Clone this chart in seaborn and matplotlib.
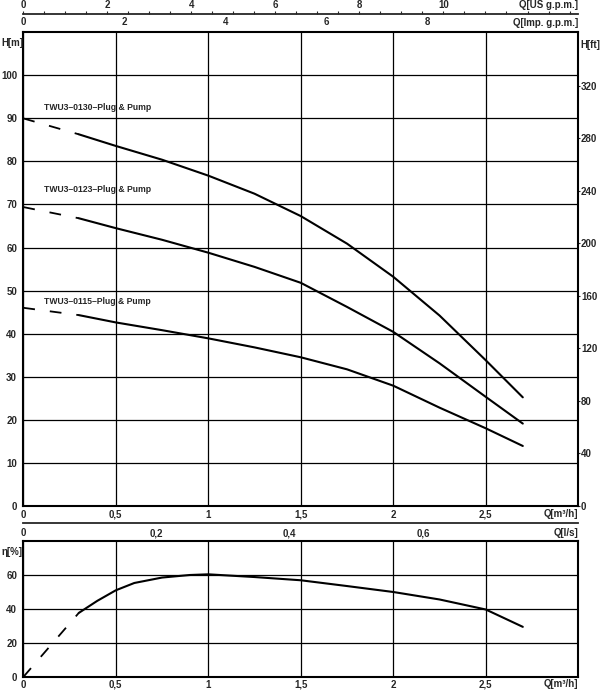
import numpy as np
import pandas as pd
import matplotlib
matplotlib.use("Agg")
import matplotlib.pyplot as plt
import seaborn as sns

# flow points along the solid parts of the head curves [m3/h]
q_solid = [0.3, 0.5, 0.75, 1.0, 1.25, 1.5, 1.75, 2.0, 2.25, 2.5, 2.7]
# dashed start (extrapolated part)
q_dash = [0.0, 0.3]

# head curves [m]
h_0130 = [86.3, 83.6, 80.4, 76.7, 72.5, 67.3, 60.9, 53.2, 44.2, 33.8, 25.2]
h_0123 = [66.8, 64.5, 61.8, 58.8, 55.5, 51.8, 46.2, 40.4, 33.1, 25.3, 19.1]
h_0115 = [44.3, 42.6, 40.8, 38.9, 36.8, 34.5, 31.7, 27.9, 22.8, 18.0, 13.9]
h_0130_dash = [90.0, 86.3]
h_0123_dash = [69.4, 66.8]
h_0115_dash = [46.0, 44.3]
pump_names = ["TWU3–0130–Plug & Pump", "TWU3–0123–Plug & Pump", "TWU3–0115–Plug & Pump"]

# efficiency [%]
q_eta = [0.3, 0.4, 0.5, 0.6, 0.75, 0.9, 1.0, 1.25, 1.5, 1.75, 2.0, 2.25, 2.5, 2.7]
eta = [37.7, 44.8, 51.0, 55.3, 58.5, 60.0, 60.4, 58.8, 56.9, 53.5, 50.0, 45.6, 39.7, 29.5]
eta_dash = [0.0, 37.7]

x_ticks = [0, 0.5, 1, 1.5, 2, 2.5]
x_labels = ["0", "0,5", "1", "1,5", "2", "2,5"]
h_ticks = list(range(0, 101, 10))
ft_ticks = [0, 40, 80, 120, 160, 200, 240, 280, 320]
us_ticks = [0, 2, 4, 6, 8, 10]
imp_ticks = [0, 2, 4, 6, 8]
ls_ticks = [0, 0.2, 0.4, 0.6]
ls_labels = ["0", "0,2", "0,4", "0,6"]
eta_ticks = [0, 20, 40, 60]

US_GPM = 4.403
IMP_GPM = 3.666
FT = 3.281

sns.set_style("white")
plt.rcParams["font.family"] = ["Liberation Sans", "DejaVu Sans"]
plt.rcParams["font.weight"] = "bold"
fs = 7

W, H = 600, 690
fig = plt.figure(figsize=(6, 6.9), dpi=100)


def fx(px):
    return px / W


def fy(py):
    return 1 - py / H


left, right = 23.3, 578.3
ax = fig.add_axes([fx(left), fy(505.8), fx(right - left), (505.8 - 32.3) / H])
ax_e = fig.add_axes([fx(left), fy(677), fx(right - left), (677 - 541) / H])

line_kw = dict(color="black", linewidth=1.5)
dash_kw = dict(color="black", linewidth=1.3, linestyle=(0, (6.5, 8.3)))

for hs, hd in [(h_0130, h_0130_dash), (h_0123, h_0123_dash), (h_0115, h_0115_dash)]:
    sns.lineplot(x=q_solid, y=hs, ax=ax, **line_kw)
    sns.lineplot(x=q_dash, y=hd, ax=ax, **dash_kw)

sns.lineplot(x=q_eta, y=eta, ax=ax_e, **line_kw)
sns.lineplot(x=q_dash, y=eta_dash, ax=ax_e, **dash_kw)

# curve names
for name, yv in zip(pump_names, [92.5, 73.5, 47.4]):
    ax.text(0.114, yv, name, fontsize=6.2, fontweight="bold", va="center", ha="left")

for a in (ax, ax_e):
    a.set_xlim(0, 3)
    a.set_xticks(x_ticks)
    a.set_xticklabels(x_labels)
    a.grid(True, color="black", linewidth=0.9)
    a.tick_params(length=0, labelsize=fs, pad=3)
    for s in a.spines.values():
        s.set_color("black")
        s.set_linewidth(1.5)
    a.set_xlabel("")
    a.set_ylabel("")

ax.set_ylim(0, 110)
ax.set_yticks(h_ticks)
ax.tick_params(axis="y", pad=4.5)
ax_e.set_ylim(0, 80)
ax_e.set_yticks(eta_ticks)
ax_e.tick_params(axis="y", pad=4.5)
ax_e.tick_params(axis="x", pad=2)

# H[ft] on the right
ax_ft = ax.secondary_yaxis("right", functions=(lambda m: m * FT, lambda f: f / FT))
ax_ft.set_yticks(ft_ticks)
ax_ft.tick_params(length=1.2, width=0.8, labelsize=fs, pad=0.8)
ax_ft.spines["right"].set_visible(False)

# Imp. g.p.m. on the top spine
ax_imp = ax.secondary_xaxis("top", functions=(lambda q: q * IMP_GPM, lambda g: g / IMP_GPM))
ax_imp.set_xticks(imp_ticks)
ax_imp.tick_params(length=0, labelsize=fs, pad=3.5)
ax_imp.spines["top"].set_visible(False)

# US g.p.m. separate scale line
ax_us = fig.add_axes([fx(left), fy(14), fx(right - left), 0.0001])
ax_us.set_xlim(0, 3 * US_GPM)
ax_us.set_xticks(us_ticks)
ax_us.set_xticks(np.arange(0, 13.01, 0.5), minor=True)
ax_us.set_yticks([])
ax_us.xaxis.set_ticks_position("top")
ax_us.tick_params(axis="x", which="major", direction="out", length=2, width=0.8, labelsize=fs, pad=1)
ax_us.tick_params(axis="x", which="minor", direction="out", length=2, width=0.8)
ax_us.patch.set_visible(False)
for k in ["left", "right", "bottom"]:
    ax_us.spines[k].set_visible(False)
ax_us.spines["top"].set_linewidth(1.3)

# l/s separate scale line
ax_ls = fig.add_axes([fx(left), fy(522.7), fx(right - left), 0.0001])
ax_ls.set_xlim(0, 3 / 3.6)
ax_ls.set_xticks(ls_ticks)
ax_ls.set_xticklabels(ls_labels)
ax_ls.set_yticks([])
ax_ls.tick_params(axis="x", length=0, labelsize=fs, pad=4)
ax_ls.patch.set_visible(False)
for k in ["left", "right", "top"]:
    ax_ls.spines[k].set_visible(False)
ax_ls.spines["bottom"].set_linewidth(1.3)

# axis names
txt = dict(fontsize=fs, fontweight="bold")
fig.text(fx(578), fy(5), "Q[US g.p.m.]", ha="right", va="center", **txt)
fig.text(fx(578), fy(22.5), "Q[Imp. g.p.m.]", ha="right", va="center", **txt)
fig.text(fx(1), fy(43), "H[m]", ha="left", va="center", **txt)
fig.text(fx(580), fy(45), "H[ft]", ha="left", va="center", **txt)
fig.text(fx(578), fy(514), "Q[m³/h]", ha="right", va="center", **txt)
fig.text(fx(578), fy(532.5), "Q[l/s]", ha="right", va="center", **txt)
fig.text(fx(2), fy(552), "η[%]", ha="left", va="center", **txt)
fig.text(fx(578), fy(684), "Q[m³/h]", ha="right", va="center", **txt)

fig.savefig("out.png", dpi=100)
